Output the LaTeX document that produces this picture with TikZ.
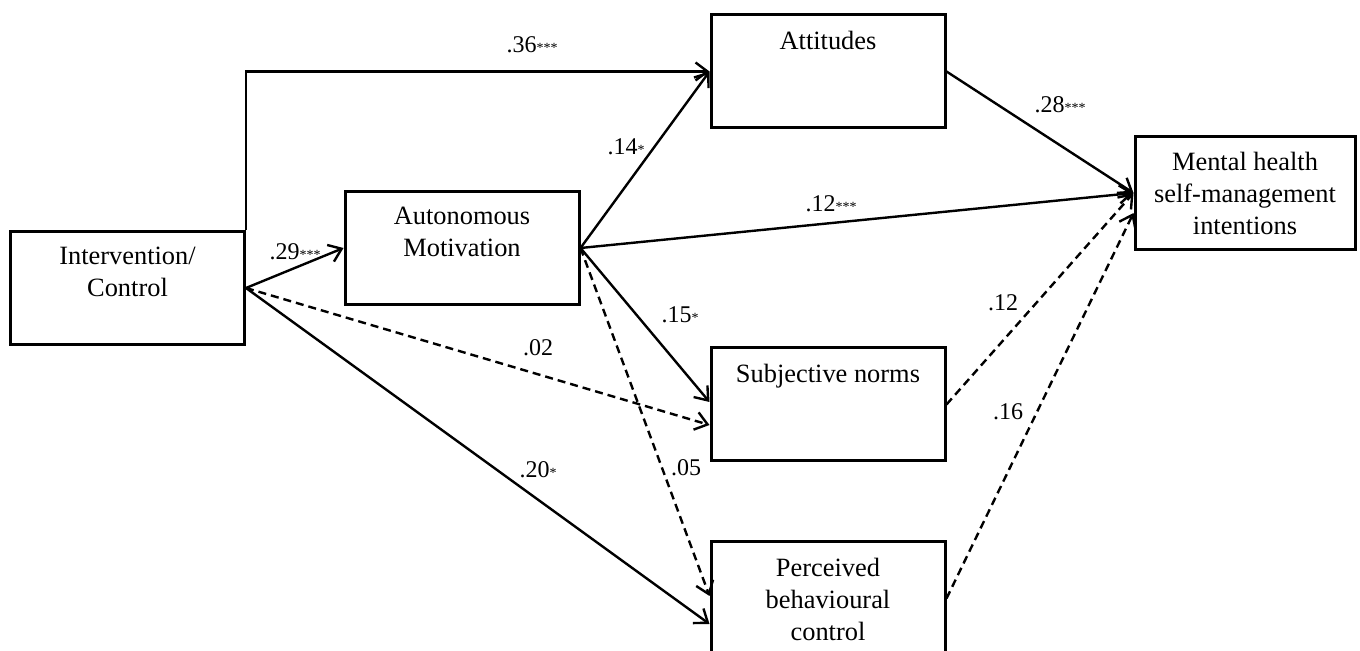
\documentclass[tikz,border=0pt]{standalone}
\usepackage{fontspec}
\setmainfont{Liberation Serif}
\usetikzlibrary{arrows.meta}
\newcommand\sigstars[1]{{\fontsize{7}{8}\selectfont #1}}
\begin{document}
\begin{tikzpicture}[x=0.5pt,y=-0.5pt,
  box/.style={draw, line width=1.5pt, minimum width=117pt, minimum height=56.5pt, inner sep=0pt},
  boxtext/.style={anchor=north, inner sep=0pt, align=center, font=\fontsize{13.2}{16}\selectfont, yshift=-8.4pt},
  arr/.style={line width=1.2pt, -{Straight Barb[length=6pt,width=9pt,line width=1.2pt]}},
  darr/.style={arr, dash pattern=on 4pt off 2.5pt},
  coef/.style={font=\fontsize{12}{14}\selectfont, inner sep=0pt}]
\clip (0,0) rectangle (1360,651);
\fill[white] (0,0) rectangle (1360,651);
% boxes
\node[box] (iv) at (127.5,288) {};
\node[box] (am) at (462,248) {};
\node[box] (att) at (828,71.5) {};
\node[box] (sn) at (828,404.5) {};
\node[box] (pbc) at (828,598.5) {};
\node[box, minimum width=110pt] (mh) at (1245,193) {};
% box texts
\node[boxtext] (ivt) at (iv.north) {Intervention/\\Control};
\node[boxtext] (amt) at (am.north) {Autonomous\\Motivation};
\node[boxtext] (attt) at (att.north) {Attitudes};
\node[boxtext] (snt) at (sn.north) {Subjective norms};
\node[boxtext] (pbct) at (pbc.north) {Perceived\\behavioural\\control};
\node[boxtext] (mht) at (mh.north) {Mental health\\self-management\\intentions};
% connectors
\draw[arr] (iv.east) -- (am.west);
\draw[arr] (iv.north east) |- (att.west);
\draw[arr] (am.east) -- (att.west);
\draw[arr] (am.east) -- (mh.west);
\draw[arr] (att.east) -- (mh.west);
\draw[arr] (am.east) -- ([yshift=1.25pt]sn.west);
\draw[darr] (iv.east) -- ([yshift=-10.25pt]sn.west);
\draw[arr] (iv.east) -- ([yshift=-12.75pt]pbc.west);
\draw[darr] (am.east) -- ([yshift=1.25pt]pbc.west);
\draw[darr] (sn.east) -- (mh.west);
\draw[darr] (pbc.east) -- ([yshift=-10pt]mh.west);
% coefficients
\node[coef] (l36) at (532,45) {.36\sigstars{***}};
\node[coef] (l29) at (295,252) {.29\sigstars{***}};
\node[coef] (l14) at (626,147) {.14\sigstars{*}};
\node[coef] (l15) at (680,315) {.15\sigstars{*}};
\node[coef] (l12a) at (831,204) {.12\sigstars{***}};
\node[coef] (l28) at (1060,105) {.28\sigstars{***}};
\node[coef] (l12b) at (1003,303) {.12};
\node[coef] (l16) at (1008,412) {.16};
\node[coef] (l02) at (538,348) {.02};
\node[coef] (l20) at (538,470) {.20\sigstars{*}};
\node[coef] (l05) at (686,468) {.05};
\end{tikzpicture}
\end{document}
